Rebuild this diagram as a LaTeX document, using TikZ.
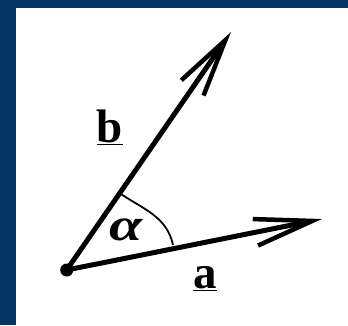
\documentclass[tikz,border=0pt]{standalone}
\usepackage{fontspec}
\setmainfont{Liberation Serif}
\usetikzlibrary{arrows.meta}
\definecolor{frameblue}{RGB}{4,53,102}
\tikzset{
  vec/.style={line width=5pt, -{Straight Barb[length=58pt, width=27pt, line width=4.5pt]}},
  lbl/.style={font=\fontsize{47}{47}\selectfont\bfseries, inner sep=0pt, anchor=base},
  anglearc/.style={line width=1.8pt}
}
\begin{document}
\begin{tikzpicture}[x=1pt,y=1pt]
\useasboundingbox (0,0) rectangle (348,325);
\fill[frameblue] (0,0) rectangle (348,325);
\fill[white] (16,0) rectangle (348,317);
\coordinate (O) at (66.7,55);
\coordinate (A) at (322,106);
\coordinate (B) at (231,293);
\coordinate (P1) at (118,133);
\coordinate (P2) at (173,80);
\draw[anglearc] (P1) to[out=-35, in=102] (P2);
\draw[vec] (O) -- (A);
\draw[vec] (O) -- (B);
\fill (O) circle (6.5);
\node[lbl] (lb) at (110,183) {\underline{b}};
\node[lbl] (la) at (205,37) {\underline{a}};
\node[font=\fontsize{46}{46}\selectfont\bfseries\itshape, inner sep=0pt, anchor=base, xscale=1.3] (al) at (126,85) {α};
\end{tikzpicture}
\end{document}
